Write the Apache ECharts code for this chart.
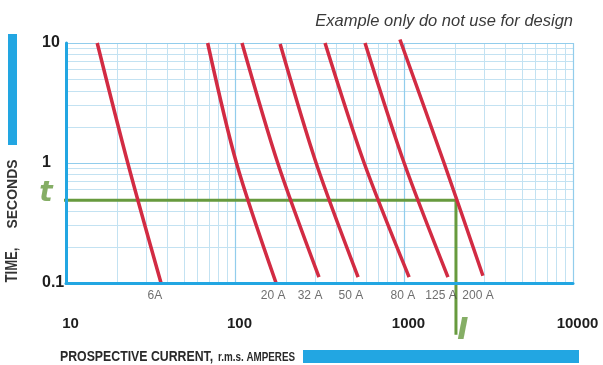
<!DOCTYPE html>
<html>
<head>
<meta charset="utf-8">
<script src="https://cdn.jsdelivr.net/npm/echarts@6/dist/echarts.min.js"></script>
<style>
  html, body { margin: 0; padding: 0; background: #ffffff; }
  #chart { width: 603px; height: 365px; }
</style>
</head>
<body>
<div id="chart"></div>
<script>
// ---------- data ----------
const fuseRatings = ['6A', '20 A', '32 A', '50 A', '80 A', '125 A', '200 A'];

const current6A   = [15.3, 23.2, 36.5];   const time6A   = [10, 1, 0.1];
const current20A  = [68.9, 102, 175];     const time20A  = [10, 1, 0.1];
const current32A  = [110, 179, 314];      const time32A  = [10, 1, 0.112];
const current50A  = [185, 302, 535];      const time50A  = [9.8, 1, 0.112];
const current80A  = [341, 581, 1072];     const time80A  = [10, 1, 0.112];
const current125A = [588, 1002, 1820];    const time125A = [10, 1, 0.112];
const current200A = [946, 1726, 2931];    const time200A = [10.7, 1, 0.115];

// fuse label anchor points (current, time) below the axis
const fuseLabelCurrents = [33.6, 168, 278, 485, 986, 1656, 2742];
const fuseLabelTime = 0.078;

// example disconnection time t and current I
const markerT = 0.49;
const markerI = 2030;
const guideStartI = 8.3;
const guideEndT = 0.037;
const tLabelCurrent = 7.6;
const iLabelTime = 0.04;
const iLabelCurrent = 2230;

// axis ticks / grid values
const xDecades = [10, 100, 1000, 10000];
const yDecades = [0.1, 1, 10];
const xMinorGrid = [20, 30, 40, 50, 60, 70, 80, 90,
                    200, 300, 400, 500, 600, 700, 800, 900,
                    2000, 3000, 4000, 5000, 6000, 7000, 8000, 9000];
const yMinorGrid = [0.2, 0.3, 0.4, 0.5, 0.6, 0.7, 0.8, 0.9,
                    2, 3, 4, 5, 6, 7, 8, 9];

// ---------- build ----------
const curves = [
  [current6A, time6A], [current20A, time20A], [current32A, time32A],
  [current50A, time50A], [current80A, time80A], [current125A, time125A],
  [current200A, time200A]
];

const SANS = "'Liberation Sans', Arial, sans-serif";
const RED = '#d22b43';
const GREEN = '#679a3e';
const BLUE = '#22a6e2';

const chart = echarts.init(document.getElementById('chart'), null, { renderer: 'canvas' });

const minorStyle = { color: '#c3e2f2', width: 1, type: 'solid' };
const majorStyle = { color: '#92cdec', width: 1.2, type: 'solid' };
const gridMarkLines = []
  .concat(xMinorGrid.map(v => ({ xAxis: v, lineStyle: minorStyle })))
  .concat(yMinorGrid.map(v => ({ yAxis: v, lineStyle: minorStyle })))
  .concat(xDecades.slice(1).map(v => ({ xAxis: v, lineStyle: majorStyle })))
  .concat(yDecades.slice(1).map(v => ({ yAxis: v, lineStyle: majorStyle })));

const series = [];

series.push({
  type: 'line',
  name: 'grid',
  data: [[xDecades[0], yDecades[0]]],
  symbol: 'none',
  lineStyle: { opacity: 0 },
  silent: true,
  z: 1,
  markLine: {
    z: 1,
    silent: true,
    symbol: ['none', 'none'],
    label: { show: false },
    animation: false,
    lineStyle: { type: 'solid' },
    data: gridMarkLines
  }
});

series.push({
  type: 'line',
  name: 'guide',
  data: [[guideStartI, markerT], [markerI, markerT], [markerI, guideEndT]],
  symbol: 'none',
  clip: false,
  lineStyle: { color: GREEN, width: 3 },
  z: 2
});

curves.forEach((c, i) => {
  series.push({
    type: 'line',
    name: fuseRatings[i],
    data: c[0].map((x, k) => [x, c[1][k]]),
    symbol: 'none',
    smooth: 0.3,
    clip: false,
    lineStyle: { color: RED, width: 3.5, cap: 'butt' },
    z: 3
  });
});

series.push({
  type: 'scatter',
  name: 'fuseLabels',
  data: fuseLabelCurrents.map((x, i) => ({ value: [x, fuseLabelTime], name: fuseRatings[i] })),
  symbolSize: 1,
  itemStyle: { color: 'transparent' },
  clip: false,
  silent: true,
  label: {
    show: true, position: 'inside', formatter: '{b}',
    fontFamily: SANS, fontSize: 12, color: '#4a4a4a'
  },
  z: 4
});

series.push({
  type: 'scatter',
  name: 'markerLabels',
  data: [
    { value: [tLabelCurrent, markerT], name: 't',
      label: { fontSize: 28, offset: [0, -6] } },
    { value: [iLabelCurrent, iLabelTime], name: 'I',
      label: { fontSize: 30, offset: [0, 0] } }
  ],
  symbolSize: 1,
  itemStyle: { color: 'transparent' },
  clip: false,
  silent: true,
  label: {
    show: true, position: 'inside', formatter: '{b}',
    fontFamily: "'DejaVu Sans', sans-serif", fontStyle: 'italic', fontWeight: 'bold',
    color: GREEN
  },
  z: 4
});

chart.setOption({
  animation: false,
  backgroundColor: '#ffffff',
  grid: { left: 66, right: 30, top: 43, bottom: 82, containLabel: false },
  xAxis: {
    type: 'log', logBase: 10, min: 10, max: 10000,
    z: 10,
    axisLine: { show: true, onZero: false, lineStyle: { color: BLUE, width: 3 } },
    axisTick: { show: false },
    splitLine: { show: false },
    axisLabel: {
      margin: 33, fontFamily: SANS, fontWeight: 'bold', fontSize: 15, color: '#1e1e1e',
      padding: [0, 0, 0, 9],
      formatter: v => String(v)
    }
  },
  yAxis: {
    type: 'log', logBase: 10, min: 0.1, max: 10,
    z: 10,
    axisLine: { show: true, onZero: false, lineStyle: { color: BLUE, width: 3 } },
    axisTick: { show: false },
    splitLine: { show: false },
    axisLabel: {
      margin: 24, align: 'left', fontFamily: SANS, fontWeight: 'bold', fontSize: 16, color: '#1e1e1e',
      formatter: v => String(v)
    }
  },
  series: series,
  graphic: [
    { type: 'rect', shape: { x: 8, y: 34, width: 9, height: 111 }, style: { fill: BLUE }, silent: true },
    { type: 'rect', shape: { x: 303, y: 350, width: 276, height: 13 }, style: { fill: BLUE }, silent: true },
    {
      type: 'text', x: 573, y: 21, silent: true,
      style: {
        text: 'Example only do not use for design',
        fontFamily: SANS, fontStyle: 'italic', fontSize: 16.5,
        fill: '#3a3a3a', align: 'right', verticalAlign: 'middle'
      }
    },
    {
      type: 'text', x: 13, y: 265, rotation: Math.PI / 2, scaleX: 0.82, silent: true,
      style: {
        text: 'TIME,', align: 'center', verticalAlign: 'middle',
        fontFamily: SANS, fontWeight: 'bold', fontSize: 16, fill: '#333333'
      }
    },
    {
      type: 'text', x: 13, y: 194, rotation: Math.PI / 2, silent: true,
      style: {
        text: 'SECONDS', align: 'center', verticalAlign: 'middle',
        fontFamily: SANS, fontWeight: 'bold', fontSize: 14, fill: '#333333'
      }
    },
    {
      type: 'text', x: 60, y: 357, scaleX: 0.82, silent: true,
      style: {
        text: 'PROSPECTIVE CURRENT,', align: 'left', verticalAlign: 'middle',
        fontFamily: SANS, fontWeight: 'bold', fontSize: 15, fill: '#2a2a2a'
      }
    },
    {
      type: 'text', x: 218, y: 358, scaleX: 0.82, silent: true,
      style: {
        text: 'r.m.s. AMPERES', align: 'left', verticalAlign: 'middle',
        fontFamily: SANS, fontWeight: 'bold', fontSize: 12, fill: '#2a2a2a'
      }
    }
  ]
});
</script>
</body>
</html>
